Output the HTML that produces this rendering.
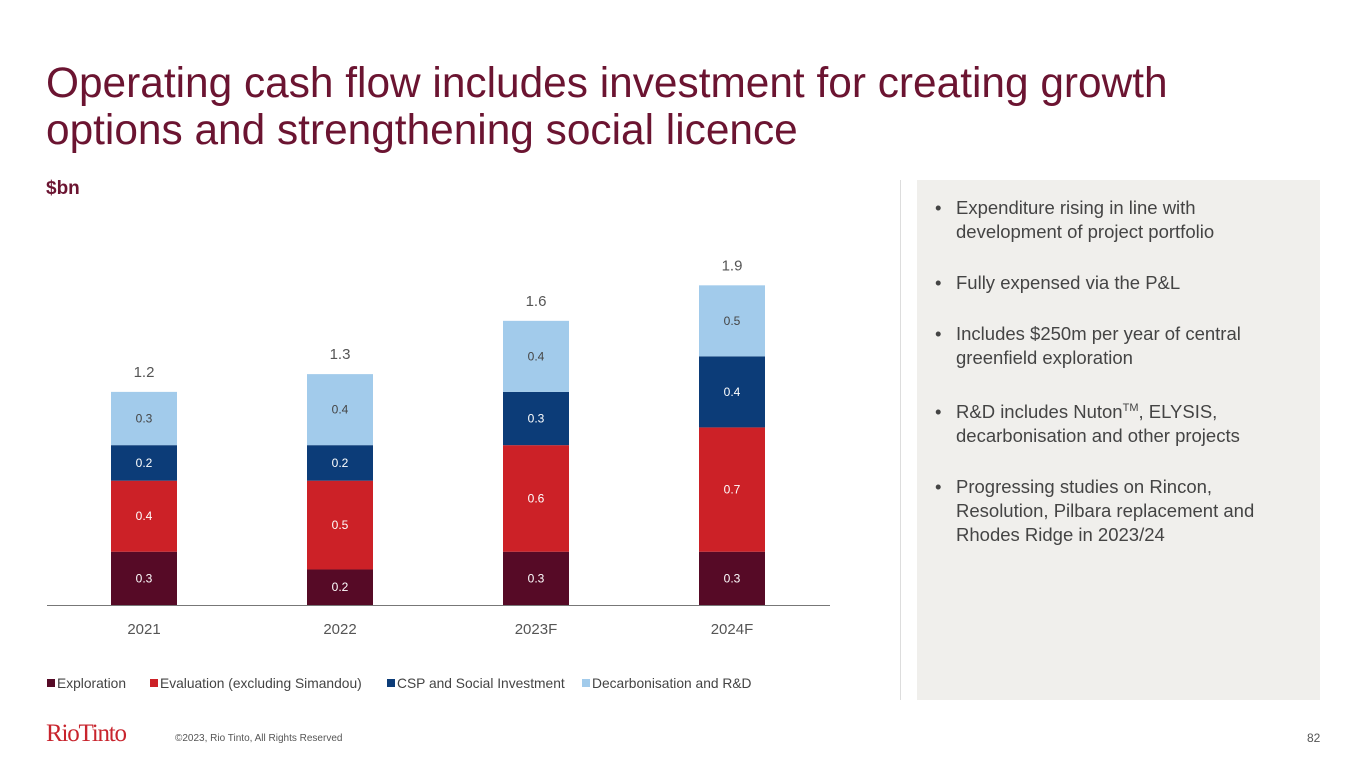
<!DOCTYPE html>
<html><head><meta charset="utf-8"><style>
body{margin:0;width:1365px;height:768px;background:#fff;font-family:"Liberation Sans",Arial,sans-serif;position:relative;overflow:hidden}
.abs{position:absolute}
#title{left:46px;top:59px;width:1250px;font-size:42.4px;line-height:47px;color:#6b1431;margin:0;font-weight:normal}
#unit{left:46px;top:178px;font-size:19px;font-weight:bold;color:#6b1431}
#panel{left:917px;top:180px;width:403px;height:520px;background:#f0efec}
#panel ul{margin:0;padding:0;list-style:none;position:absolute;left:18px;top:16px;width:345px}
#panel li{font-size:18.5px;line-height:24px;color:#444;padding-left:21px;position:relative;margin-bottom:27px}
#panel li:before{content:"•";position:absolute;left:0;top:0}
#panel sup{font-size:11px;line-height:0;vertical-align:7px}
#vline{left:900px;top:180px;width:1px;height:520px;background:#ddd}
#logo{left:46px;top:720px;font-family:"Liberation Serif",serif;font-size:25px;color:#c8242d;letter-spacing:-1.2px}
#copy{left:175px;top:733px;font-size:10px;color:#555}
#pg{left:1307px;top:731px;font-size:12px;color:#555}
</style></head><body>
<h1 id="title" class="abs">Operating cash flow includes investment for creating growth<br>options and strengthening social licence</h1>
<div id="unit" class="abs">$bn</div>
<svg class="abs" style="left:0;top:0" width="900" height="710" id="chart"></svg>
<div id="vline" class="abs"></div>
<div id="panel" class="abs"><ul>
<li>Expenditure rising in line with development of project portfolio</li>
<li>Fully expensed via the P&amp;L</li>
<li style="margin-bottom:30px">Includes $250m per year of central greenfield exploration</li>
<li>R&amp;D includes Nuton<sup>TM</sup>, ELYSIS, decarbonisation and other projects</li>
<li>Progressing studies on Rincon, Resolution, Pilbara replacement and Rhodes Ridge in 2023/24</li>
</ul></div>
<div id="logo" class="abs">RioTinto</div>
<div id="copy" class="abs">©2023, Rio Tinto, All Rights Reserved</div>
<div id="pg" class="abs">82</div>
<script>
const categories=["2021","2022","2023F","2024F"];
const seriesNames=["Exploration","Evaluation (excluding Simandou)","CSP and Social Investment","Decarbonisation and R&D"];
const colors=["#560a26","#cc2127","#0c3c78","#a2cbeb"];
const exploration=[0.3,0.2,0.3,0.3];
const evaluation=[0.4,0.5,0.6,0.7];
const csp=[0.2,0.2,0.3,0.4];
const decarb=[0.3,0.4,0.4,0.4];
const exploLabels=["0.3","0.2","0.3","0.3"];
const evalLabels=["0.4","0.5","0.6","0.7"];
const cspLabels=["0.2","0.2","0.3","0.4"];
const decarbLabels=["0.3","0.4","0.4","0.5"];
const totalLabels=["1.2","1.3","1.6","1.9"];
const series=[exploration,evaluation,csp,decarb];
const labels=[exploLabels,evalLabels,cspLabels,decarbLabels];
const NS="http://www.w3.org/2000/svg";
const svg=document.getElementById('chart');
const base=605,unit=177.6,barW=66;
const y=v=>base-v*unit;
const x=i=>144+i*196;
function mk(t,a){const e=document.createElementNS(NS,t);for(const k in a)e.setAttribute(k,a[k]);svg.appendChild(e);return e;}
categories.forEach((c,i)=>{
  let cum=0;
  series.forEach((s,j)=>{
    const r=mk('rect',{x:x(i)-barW/2,y:y(cum+s[i]),width:barW,height:s[i]*unit,fill:colors[j]});
    
    
    const t=mk('text',{x:x(i),y:y(cum+s[i]/2)+4,'text-anchor':'middle','font-size':12,fill:j==3?'#444':'#fff'});
    t.textContent=labels[j][i];
    
    
    cum+=s[i];
  });
  const tt=mk('text',{x:x(i),y:y(cum)-15,'text-anchor':'middle','font-size':15,fill:'#555'});
  tt.textContent=totalLabels[i];
  
  
  const ct=mk('text',{x:x(i),y:634,'text-anchor':'middle','font-size':15,fill:'#555'});
  ct.textContent=c;
  
  
});
const ax=mk('line',{x1:47,x2:830,y1:base+0.5,y2:base+0.5,stroke:'#777','stroke-width':1});


const legX=[47,150,387,582];
seriesNames.forEach((n,j)=>{
  const r=mk('rect',{x:legX[j],y:679,width:8,height:8,fill:colors[j]});
  
  
  const t=mk('text',{x:legX[j]+10,y:688,'font-size':13.8,fill:'#444'});
  t.textContent=n;
  
  
});
</script>
</body></html>
